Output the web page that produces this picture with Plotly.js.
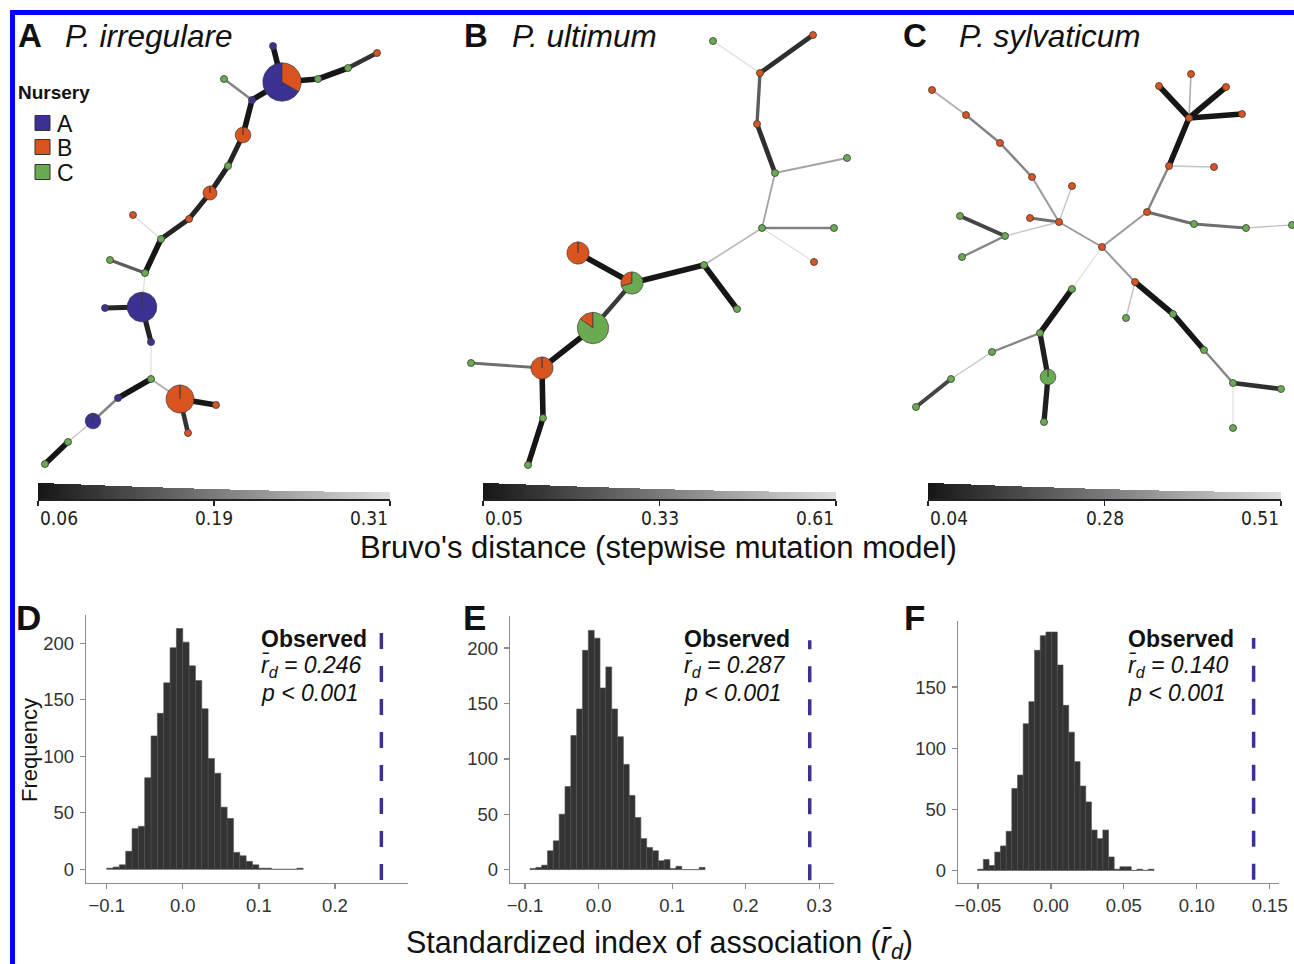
<!DOCTYPE html>
<html><head><meta charset="utf-8">
<script src="https://cdn.plot.ly/plotly-3.0.1.min.js"></script>
<style>html,body{margin:0;padding:0;background:#fff}#chart{width:1294px;height:964px}</style>
</head><body><div id="chart"></div>
<script>
const W = 1294, H = 964;
const FONT = 'Liberation Sans, Arial, Helvetica, sans-serif';
const NARROW = 'Liberation Sans Narrow, Arial Narrow, DejaVu Sans Condensed, Liberation Sans, sans-serif';

// ---------- Nurseries ----------
const nurseryNames = ['A', 'B', 'C'];
const nurseryColors = ['#3b3192', '#d9541f', '#6aab52'];

// ---------- Network A: P. irregulare (layout coordinates, sample counts per nursery) ----------
const A_x  = [273,282,224,252,318,348,377,243,228,210,189,133,161,110,145,142,105,151,151,180,216,188,118,93,68,45];
const A_y  = [46,82,79,100,79,68,53,135,166,193,219,215,239,260,273,307,308,342,379,399,405,433,398,421,442,464];
const A_nA = [1,20,0,1,0,0,0,0,0,0,0,0,0,0,0,18,1,1,0,0,0,0,1,5,0,0];
const A_nB = [0,10,0,0,0,0,1,5,0,4,1,1,0,0,0,0,0,0,0,16,1,1,0,0,0,0];
const A_nC = [0,0,1,0,1,1,0,0,1,0,0,0,1,1,1,0,0,0,1,0,0,0,0,0,1,1];
const A_from = [0,1,4,5,1,3,3,7,8,9,10,12,12,14,14,15,15,17,18,18,22,23,24,19,19];
const A_to   = [1,4,5,6,3,2,7,8,9,10,12,11,14,13,15,16,17,18,19,22,23,24,25,20,21];
const A_dist = [0.0625,0.0625,0.0625,0.10,0.0625,0.20,0.0625,0.08,0.08,0.08,0.08,0.3125,0.0625,0.15,0.3125,0.08,0.08,0.3125,0.25,0.0625,0.20,0.28,0.0625,0.0625,0.10];
const A_range = [0.0625, 0.3125];
const A_ticks = ['0.06', '0.19', '0.31'];

// ---------- Network B: P. ultimum ----------
const B_x  = [713,813,760,757,775,847,762,834,814,704,737,632,578,593,542,471,543,528];
const B_y  = [41,35,73,124,173,158,228,228,262,265,309,283,253,328,368,363,418,465];
const B_nA = [0,0,0,0,0,0,0,0,0,0,0,0,0,0,0,0,0,0];
const B_nB = [0,1,1,1,0,0,0,0,1,0,0,3,10,3,10,0,0,0];
const B_nC = [1,0,0,0,1,1,1,1,0,1,1,7,0,17,0,1,1,1];
const B_from = [0,1,2,3,4,4,6,6,6,9,9,11,11,13,14,14,16];
const B_to   = [2,2,3,4,5,6,7,8,9,10,11,12,13,14,15,16,17];
const B_dist = [0.61,0.12,0.25,0.12,0.45,0.45,0.35,0.61,0.50,0.05,0.05,0.05,0.15,0.05,0.30,0.05,0.05];
const B_range = [0.05, 0.61];
const B_ticks = ['0.05', '0.33', '0.61'];

// ---------- Network C: P. sylvaticum ----------
const C_x  = [932,966,1000,1032,1059,1072,1030,1005,960,962,1102,1147,1169,1214,1189,1191,1159,1226,1242,1194,1246,1292,1135,1126,1173,1204,1233,1281,1233,1072,1040,1048,1044,992,951,916];
const C_y  = [90,115,143,177,222,186,218,236,216,257,247,212,166,167,118,74,86,87,114,224,228,225,282,318,314,350,383,389,428,289,333,377,422,352,379,407];
const C_nA = [0,0,0,0,0,0,0,0,0,0,0,0,0,0,0,0,0,0,0,0,0,0,0,0,0,0,0,0,0,0,0,0,0,0,0,0];
const C_nB = [1,1,1,1,1,1,1,0,0,0,1,1,1,1,1,1,1,1,1,0,0,0,1,0,0,0,0,0,0,0,0,0,0,0,0,0];
const C_nC = [0,0,0,0,0,0,0,1,1,1,0,0,0,0,0,0,0,0,0,1,1,1,0,1,1,1,1,1,1,1,1,5,1,1,1,1];
const C_from = [0,1,2,3,4,4,4,7,7,4,10,11,12,12,14,14,14,14,11,19,20,10,22,22,24,25,26,26,10,29,30,31,30,33,34];
const C_to   = [1,2,3,4,5,6,7,8,9,10,11,12,14,13,15,16,17,18,19,20,21,22,23,24,25,26,27,28,29,30,31,32,33,34,35];
const C_dist = [0.40,0.30,0.30,0.35,0.45,0.25,0.45,0.15,0.30,0.35,0.35,0.30,0.04,0.45,0.40,0.04,0.04,0.04,0.25,0.25,0.45,0.35,0.45,0.04,0.04,0.30,0.10,0.51,0.51,0.04,0.06,0.06,0.30,0.45,0.15];
const C_range = [0.04, 0.51];
const C_ticks = ['0.04', '0.28', '0.51'];

// ---------- Permutation histograms (counts per bin) ----------
const D_binStart = -0.1,    D_binWidth = 0.00833;
const D_counts = [1,2,4,16,36,38,81,118,138,165,196,213,201,180,167,142,98,85,55,45,15,12,7,4,1,1,0,0,0,0,1];
const E_binStart = -0.0932, E_binWidth = 0.00793;
const E_counts = [1,2,4,17,26,50,75,121,145,198,216,209,164,183,145,120,95,67,47,28,20,17,8,9,1,3,0,0,0,2];
const F_binStart = -0.0502, F_binWidth = 0.0039;
const F_counts = [1,9,4,15,20,32,67,78,120,138,180,192,195,195,168,135,113,89,69,56,33,26,33,11,1,3,3,0,1,0,1];
const observedLine = [0.261, 0.287, 0.139];
const observedText = ['0.246', '0.287', '0.140'];
const observedP = ['0.001', '0.001', '0.001'];

// ---------- helpers ----------
const pxX = x => x / W;
const pxY = y => 1 - y / H;
function grayOf(t) { const g = Math.round(22 + 200 * t); return `rgb(${g},${g},${g})`; }
function widthOf(t) { return 1.2 + 4.4 * Math.pow(1 - t, 1.6); }

const traces = [];
const shapes = [];
const annotations = [];

function pie(cx, cy, r, a0, a1) {
  const xs = [cx], ys = [cy];
  const n = Math.max(3, Math.ceil(Math.abs(a1 - a0) / 5));
  for (let i = 0; i <= n; i++) {
    const a = (a0 + (a1 - a0) * i / n) * Math.PI / 180;
    xs.push(cx + r * Math.sin(a)); ys.push(cy - r * Math.cos(a));
  }
  xs.push(cx); ys.push(cy);
  return [xs, ys];
}

function network(xs, ys, nA, nB, nC, from, to, dist, range, xa, ya) {
  const [dmin, dmax] = range;
  for (let k = 0; k < from.length; k++) {
    const t = (dist[k] - dmin) / (dmax - dmin);
    traces.push({type: 'scatter', mode: 'lines', x: [xs[from[k]], xs[to[k]]], y: [ys[from[k]], ys[to[k]]],
      xaxis: xa, yaxis: ya, line: {color: grayOf(t), width: widthOf(t)}, hoverinfo: 'skip', showlegend: false});
  }
  const sx = [], sy = [], sc = [];
  for (let i = 0; i < xs.length; i++) {
    const counts = [nA[i], nB[i], nC[i]];
    const tot = counts[0] + counts[1] + counts[2];
    if (tot === 1) { sx.push(xs[i]); sy.push(ys[i]); sc.push(nurseryColors[counts.indexOf(1)]); }
  }
  for (let i = 0; i < xs.length; i++) {
    const counts = [nA[i], nB[i], nC[i]];
    const tot = counts[0] + counts[1] + counts[2];
    if (tot <= 1) continue;
    const r = 3.5 * Math.sqrt(tot);
    let a = 0;
    for (let p = 0; p < 3; p++) {
      if (!counts[p]) continue;
      const a1 = a - 360 * counts[p] / tot;
      const [px, py] = pie(xs[i], ys[i], r, a, a1);
      traces.push({type: 'scatter', mode: 'lines', x: px, y: py, fill: 'toself', fillcolor: nurseryColors[p],
        line: {color: '#3a3a3a', width: 0.7}, xaxis: xa, yaxis: ya, hoverinfo: 'skip', showlegend: false});
      a = a1;
    }
  }
  traces.push({type: 'scatter', mode: 'markers', x: sx, y: sy, xaxis: xa, yaxis: ya,
    marker: {size: 7, color: sc, line: {color: '#3a3a3a', width: 0.8}}, hoverinfo: 'skip', showlegend: false});
}

network(A_x, A_y, A_nA, A_nB, A_nC, A_from, A_to, A_dist, A_range, 'x', 'y');
network(B_x, B_y, B_nA, B_nB, B_nC, B_from, B_to, B_dist, B_range, 'x2', 'y2');
network(C_x, C_y, C_nA, C_nB, C_nC, C_from, C_to, C_dist, C_range, 'x3', 'y3');

// distance legends (gradient wedge)
function ramp(range, ticks, xa, ya) {
  const [dmin, dmax] = range, N = 90, step = (dmax - dmin) / N;
  const xs = [], hs = [], cs = [];
  for (let i = 0; i < N; i++) {
    const d = dmin + step * (i + 0.5), t = (d - dmin) / (dmax - dmin);
    xs.push(d); hs.push(widthOf(t) + 2); cs.push(grayOf(t));
  }
  traces.push({type: 'bar', x: xs, y: hs, width: step * 1.02, xaxis: xa, yaxis: ya,
    marker: {color: cs, line: {width: 0}}, hoverinfo: 'skip', showlegend: false});
  const pos = [dmin, (dmin + dmax) / 2, dmax], anc = ['left', 'center', 'right'];
  for (let i = 0; i < 3; i++) {
    annotations.push({xref: xa, yref: 'paper', x: pos[i], y: pxY(518), xanchor: anc[i], yanchor: 'middle',
      text: ticks[i], showarrow: false, font: {family: NARROW, size: 19, color: '#222'}});
  }
}
ramp(A_range, A_ticks, 'x7', 'y7');
ramp(B_range, B_ticks, 'x8', 'y8');
ramp(C_range, C_ticks, 'x9', 'y9');

// histograms
function hist(start, bw, counts, xa, ya, obs, yb, yt) {
  traces.push({type: 'bar', x0: start + bw / 2, dx: bw, y: counts, width: bw, xaxis: xa, yaxis: ya,
    marker: {color: '#333333', line: {color: '#4d4d4d', width: 0.6}}, hoverinfo: 'skip', showlegend: false});
  traces.push({type: 'scatter', mode: 'lines', x: [obs, obs], y: [yb, yt], xaxis: xa, yaxis: ya,
    line: {color: '#3b3192', width: 3.5, dash: '16px,17px'}, hoverinfo: 'skip', showlegend: false});
}
hist(D_binStart, D_binWidth, D_counts, 'x4', 'y4', observedLine[0], -9.5, 210);
hist(E_binStart, E_binWidth, E_counts, 'x5', 'y5', observedLine[1], -9.7, 207);
hist(F_binStart, F_binWidth, F_counts, 'x6', 'y6', observedLine[2], -7.6, 190);

// ---------- axes ----------
const hidden = (dom, range, anchor) => ({domain: dom, range, anchor, visible: false, fixedrange: true});
const layout = {
  width: W, height: H, margin: {l: 0, r: 0, t: 0, b: 0}, paper_bgcolor: '#fff', plot_bgcolor: 'rgba(0,0,0,0)',
  showlegend: false, bargap: 0, bargroupgap: 0, font: {family: FONT},
  xaxis:  hidden([pxX(14), pxX(440)], [14, 440], 'y'),
  yaxis:  hidden([pxY(480), pxY(18)], [480, 18], 'x'),
  xaxis2: hidden([pxX(440), pxX(880)], [440, 880], 'y2'),
  yaxis2: hidden([pxY(480), pxY(18)], [480, 18], 'x2'),
  xaxis3: hidden([pxX(880), 1], [880, 1294], 'y3'),
  yaxis3: hidden([pxY(480), pxY(18)], [480, 18], 'x3'),
};
function histAxes(n, xd, yd, xr, yr, xt, fmt, yt) {
  const common = {showline: true, linecolor: '#8c8c8c', linewidth: 1.3, ticks: 'outside', ticklen: 5,
    tickcolor: '#8c8c8c', tickwidth: 1.3, showgrid: false, zeroline: false, fixedrange: true,
    tickfont: {family: FONT, size: 18.5, color: '#333'}};
  layout['xaxis' + n] = Object.assign({}, common, {domain: xd, range: xr, anchor: 'y' + n, tickmode: 'array', tickvals: xt, tickformat: fmt});
  layout['yaxis' + n] = Object.assign({}, common, {domain: yd, range: yr, anchor: 'x' + n, tickmode: 'array', tickvals: yt, ticklabelstandoff: 2});
}
histAxes(4, [pxX(86), pxX(408)], [pxY(883), pxY(615)], [-0.1272, 0.296], [-12.1, 225], [-0.1, 0, 0.1, 0.2], '.1f', [0, 50, 100, 150, 200]);
histAxes(5, [pxX(510), pxX(834)], [pxY(883), pxY(616)], [-0.1204, 0.32], [-12.1, 229], [-0.1, 0, 0.1, 0.2, 0.3], '.1f', [0, 50, 100, 150, 200]);
histAxes(6, [pxX(958), pxX(1279)], [pxY(883), pxY(621)], [-0.0637, 0.1564], [-10.3, 204], [-0.05, 0, 0.05, 0.1, 0.15], '.2f', [0, 50, 100, 150]);

function rampAxes(n, xd, range) {
  const mid = (range[0] + range[1]) / 2;
  layout['xaxis' + n] = {domain: xd, range: range, anchor: 'y' + n, showline: true, linecolor: '#222', linewidth: 1.5,
    ticks: 'outside', ticklen: 5, tickcolor: '#222', tickwidth: 1.3, tickmode: 'array', tickvals: [range[0], mid, range[1]],
    showticklabels: false, showgrid: false, zeroline: false, fixedrange: true};
  layout['yaxis' + n] = {domain: [pxY(499), pxY(483)], range: [0, 7.5], anchor: 'x' + n, visible: false, fixedrange: true};
}
rampAxes(7, [pxX(38), pxX(390)], A_range);
rampAxes(8, [pxX(483), pxX(836)], B_range);
rampAxes(9, [pxX(928), pxX(1281)], C_range);

// ---------- text ----------
function txt(x, y, text, size, opts) {
  annotations.push(Object.assign({xref: 'paper', yref: 'paper', x: pxX(x), y: pxY(y), text, showarrow: false,
    xanchor: 'left', yanchor: 'middle', font: {family: FONT, size, color: '#111'}}, opts || {}));
}
txt(16, 36, '<b>A</b>', 33);
txt(63, 36, '<i>P. irregulare</i>', 31.5);
txt(462, 36, '<b>B</b>', 33);
txt(510, 36, '<i>P. ultimum</i>', 31.5);
txt(901, 36, '<b>C</b>', 33);
txt(957, 36, '<i>P. sylvaticum</i>', 31.5);

txt(16, 93, '<b>Nursery</b>', 19);
const legY = [123, 147, 172];
for (let i = 0; i < 3; i++) {
  shapes.push({type: 'rect', xref: 'paper', yref: 'paper', x0: pxX(35), x1: pxX(50), y0: pxY(legY[i] + 7.5), y1: pxY(legY[i] - 7.5),
    fillcolor: nurseryColors[i], line: {color: '#333', width: 1}});
  txt(55, legY[i] + 1, nurseryNames[i], 23);
}

txt(658, 547, "Bruvo's distance (stepwise mutation model)", 31, {xanchor: 'center'});
txt(660, 944, 'Standardized index of association (<i>r̄<sub>d</sub></i>)', 30.5, {xanchor: 'center'});
txt(29, 750, 'Frequency', 22, {xanchor: 'center', textangle: -90});

txt(14, 617, '<b>D</b>', 35);
txt(461, 617, '<b>E</b>', 35);
txt(902, 617, '<b>F</b>', 35);

const obsX = [259, 682, 1126];
for (let i = 0; i < 3; i++) {
  txt(obsX[i], 639, '<b>Observed</b>', 23);
  txt(obsX[i], 666, '<i>r̄<sub>d</sub> = ' + observedText[i] + '</i>', 23);
  txt(obsX[i], 693, '<i>p &lt; ' + observedP[i] + '</i>', 23);
}

// blue frame
shapes.push({type: 'rect', xref: 'paper', yref: 'paper', x0: pxX(10), x1: 1, y0: pxY(15), y1: pxY(10), fillcolor: '#0000ff', line: {width: 0}});
shapes.push({type: 'rect', xref: 'paper', yref: 'paper', x0: pxX(10), x1: pxX(15), y0: 0, y1: pxY(10), fillcolor: '#0000ff', line: {width: 0}});

layout.shapes = shapes;
layout.annotations = annotations;
Plotly.newPlot('chart', traces, layout, {displayModeBar: false, staticPlot: true});
</script></body></html>
